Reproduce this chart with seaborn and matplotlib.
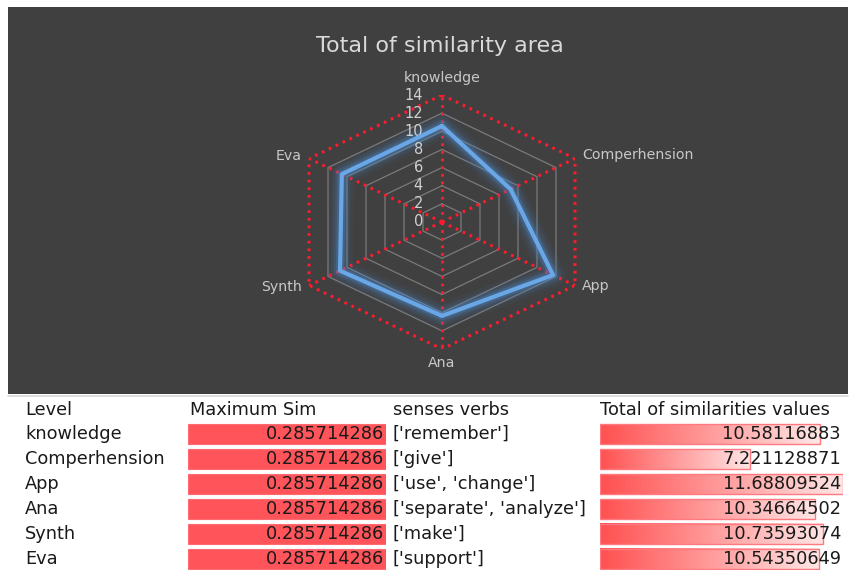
import numpy as np
import pandas as pd
import matplotlib
matplotlib.use("Agg")
import matplotlib.pyplot as plt
from matplotlib.patches import Rectangle
from matplotlib.lines import Line2D
from matplotlib.colors import LinearSegmentedColormap
import seaborn as sns

# ---------------- data ----------------
title = "Total of similarity area"
levels = ["knowledge", "Comperhension", "App", "Ana", "Synth", "Eva"]
max_sim = [0.285714286, 0.285714286, 0.285714286, 0.285714286, 0.285714286, 0.285714286]
senses = ["['remember']", "['give']", "['use', 'change']",
          "['separate', 'analyze']", "['make']", "['support']"]
totals = [10.58116883, 7.221128871, 11.68809524, 10.34664502, 10.73593074, 10.54350649]
radial_ticks = [0, 2, 4, 6, 8, 10, 12, 14]
headers = ["Level", "Maximum Sim", "senses verbs", "Total of similarities values"]

sns.set_theme(style="white")
plt.rcParams["font.family"] = ["DejaVu Sans"]

W, H = 854, 570
fig = plt.figure(figsize=(W / 100, H / 100), dpi=100)
fig.patch.set_facecolor("white")


def fx(x):
    return x / W


def fy(y):
    return 1 - y / H


# dark chart panel
fig.add_artist(Rectangle((fx(8), fy(394)), 840 / W, 387 / H, transform=fig.transFigure,
                         facecolor="#404040", edgecolor="none", zorder=-5))
fig.add_artist(Line2D([fx(8), fx(848)], [fy(396), fy(396)], transform=fig.transFigure,
                      color="#d9d9d9", lw=1.2, zorder=-4))

chart_font = ["DejaVu Sans"]
fig.text(fx(440), fy(46), title, ha="center", va="center", fontsize=16,
         color="#d9d9d9", family=chart_font)

# ---------------- radar ----------------
cx, cy, Ry = 442, 222, 127
Rx = 133 / np.cos(np.pi / 6)
ax = fig.add_axes([fx(cx - Rx), fy(cy + Ry), 2 * Rx / W, 2 * Ry / H], projection="polar")
ax.set_aspect("auto")
ax.set_facecolor("none")
ax.set_theta_offset(np.pi / 2)
ax.set_theta_direction(-1)
ax.grid(False)
ax.spines["polar"].set_visible(False)
ax.set_xticks([])
ax.set_yticks([])

n = len(levels)
theta = np.linspace(0, 2 * np.pi, n, endpoint=False)
theta_c = np.append(theta, 2 * np.pi)
rmax = radial_ticks[-1]

red = "#ff1a2e"
for r in radial_ticks[1:-1]:
    ax.plot(theta_c, [r] * (n + 1), color="#7a7a7a", lw=0.9, zorder=1)
ax.plot(theta_c, [rmax] * (n + 1), color=red, lw=2.2, linestyle=(0, (0.9, 1.6)), zorder=2)
for t in theta:
    ax.plot([t, t], [0, rmax], color=red, lw=2.2, linestyle=(0, (0.9, 1.6)), zorder=2)

vals_c = totals + [totals[0]]
# glow
for lw_, a_ in [(18, 0.07), (13, 0.11), (9, 0.18), (6, 0.3)]:
    ax.plot(theta_c, vals_c, color="#4a86c5", lw=lw_, alpha=a_, solid_joinstyle="round",
            zorder=3)
df = pd.DataFrame({"theta": theta_c, "value": vals_c})
sns.lineplot(data=df, x="theta", y="value", ax=ax, sort=False, color="#6aa7e6", lw=3,
             zorder=4)
ax.set_xlabel("")
ax.set_ylabel("")
ax.set_ylim(0, rmax)
ax.set_xticks([])
ax.set_yticks([])

for r in radial_ticks:
    ax.annotate(str(r), (0, r), xytext=(-19, 0), textcoords="offset pixels",
                ha="right", va="center", fontsize=10.5, color="#d0d0d0",
                family=chart_font, annotation_clip=False)

label_offsets = [(0, 17, "center"), (7, 3, "left"), (7, -1, "left"),
                 (0, -14, "center"), (-7, -1, "right"), (-7, 3, "right")]
for t, lab, (dx, dy, ha) in zip(theta, levels, label_offsets):
    ax.annotate(lab, (t, rmax), xytext=(dx, dy), textcoords="offset pixels",
                ha=ha, va="center", fontsize=10.2, color="#c8c8c8",
                family=chart_font, annotation_clip=False)

# ---------------- table ----------------
row_y0, pitch = 434, 25
top_px = row_y0 - pitch / 2
height_px = pitch * n

tdf = pd.DataFrame({"level": levels, "max_sim": max_sim, "total": totals})

# Maximum Sim data bars
ax_ms = fig.add_axes([fx(188), fy(top_px + height_px), (386 - 188) / W, height_px / H])
sns.barplot(data=tdf, x="max_sim", y="level", orient="h", ax=ax_ms, color="#ff555a",
            saturation=1, width=0.8, errorbar=None, edgecolor="#ff6b70", linewidth=0.8)
ax_ms.set_xlim(0, max(max_sim))
ax_ms.set_ylim(n - 0.5, -0.5)
ax_ms.axis("off")

# Total data bars with gradient
ax_t = fig.add_axes([fx(600), fy(top_px + height_px), (843 - 600) / W, height_px / H])
sns.barplot(data=tdf, x="total", y="level", orient="h", ax=ax_t, color="white",
            saturation=1, width=0.8, errorbar=None)
cmap = LinearSegmentedColormap.from_list("bar", ["#ff5050", "#ffe6e6"])
grad = np.linspace(0, 1, 256).reshape(1, -1)
for p in ax_t.patches:
    x0, y0, w, h = p.get_x(), p.get_y(), p.get_width(), p.get_height()
    ax_t.imshow(grad, extent=[x0, x0 + w, y0 + h, y0], aspect="auto", cmap=cmap,
                zorder=0.5, interpolation="bilinear")
    p.set_facecolor("none")
    p.set_edgecolor("#ff7a80")
    p.set_linewidth(1.0)
    p.set_zorder(2)
ax_t.set_xlim(0, max(totals))
ax_t.set_ylim(n - 0.5, -0.5)
ax_t.axis("off")

# table text overlay
tx = fig.add_axes([0, 0, 1, 1], zorder=10)
tx.set_xlim(0, W)
tx.set_ylim(H, 0)
tx.axis("off")
tfs = 12.8
tcol = "#1a1a1a"
for x_, h_ in zip([25, 190, 393, 600], headers):
    tx.text(x_, 410, h_, ha="left", va="center", fontsize=tfs, color=tcol)
for i in range(n):
    yy = row_y0 + pitch * i
    tx.text(25, yy, levels[i], ha="left", va="center", fontsize=tfs, color=tcol)
    tx.text(384, yy, f"{max_sim[i]:.10g}", ha="right", va="center", fontsize=tfs, color=tcol)
    tx.text(393, yy, senses[i], ha="left", va="center", fontsize=tfs, color=tcol)
    tx.text(841, yy, f"{totals[i]:.10g}", ha="right", va="center", fontsize=tfs, color=tcol)

fig.savefig("out.png", dpi=100)
